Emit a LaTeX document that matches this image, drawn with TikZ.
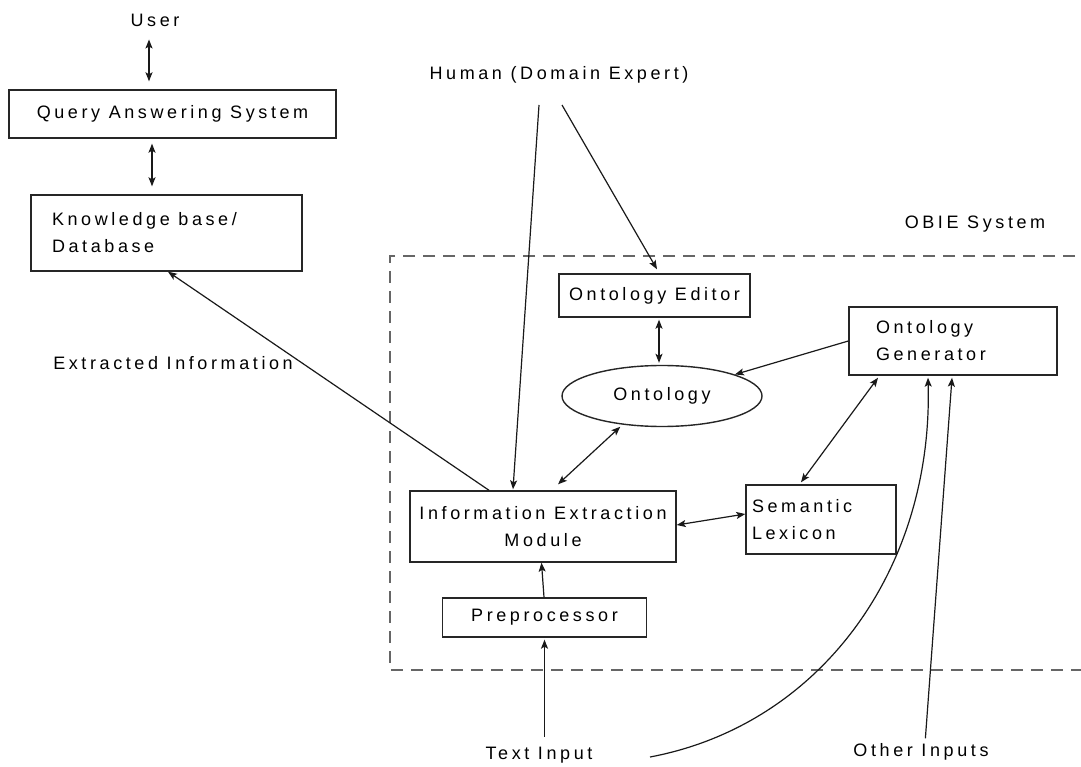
\documentclass[tikz,border=0pt]{standalone}
\usepackage{fontspec}
\setmainfont{Liberation Sans}[LetterSpace=20]
\usetikzlibrary{arrows.meta,shapes.geometric}

\begin{document}
\begin{tikzpicture}[x=1pt,y=-1pt,
  lbl/.style={font=\fontsize{18}{27}\selectfont, inner sep=0pt, text=black},
  blk/.style={lbl, draw=black!85, line width=1.4pt, rectangle},
  con/.style={line width=1.2pt, draw=black!90},
  fwd/.style={con, -{Stealth[length=9pt,width=7pt,inset=2pt]}},
  dbl/.style={con, {Stealth[length=9pt,width=7pt,inset=2pt]}-{Stealth[length=9pt,width=7pt,inset=2pt]}},
  frame/.style={draw=black!60, line width=1.4pt, dash pattern=on 12pt off 8pt}
]
\fill[white] (0,0) rectangle (1081,767);
\useasboundingbox (0,0) rectangle (1081,767);

% system boundary
\draw[frame] (1095,256) -- (390,256) -- (390,670) -- (1095,670);

% left column
\node[lbl] (user) at (155,20) {User};
\node[blk, minimum width=327pt, minimum height=48pt] (qas) at (172.5,114) {Query Answering System};
\node[blk, align=flush left, text width=229pt, inner xsep=21pt, minimum height=76pt] (kb) at (166.5,233) {Knowledge base/\\Database};
\node[lbl] (extr) at (173,363) {Extracted Information};

% labels
\node[lbl] (human) at (559,75) {Human (Domain Expert)};
\node[lbl] (obie) at (975,224) {OBIE System};
\node[lbl] (text) at (539,755) {Text Input};
\node[lbl] (other) at (921,752) {Other Inputs};

% OBIE components
\node[blk, minimum width=191pt, minimum height=43pt] (editor) at (654.5,295.5) {Ontology Editor};
\node[lbl, draw=black!85, line width=1.4pt, ellipse, minimum width=200pt, minimum height=61pt] (onto) at (662,396) {Ontology};
\node[blk, align=flush left, text width=154pt, inner xsep=27pt, minimum height=68pt] (gen) at (953,341) {Ontology\\Generator};
\node[blk, align=center, minimum width=266pt, minimum height=71pt] (iem) at (543,526.5) {Information Extraction\\Module};
\node[blk, align=flush left, text width=138pt, inner xsep=6pt, minimum height=69pt] (lex) at (821,519.5) {Semantic\\Lexicon};
\node[blk, minimum width=204pt, minimum height=39pt] (pre) at (544.5,617.5) {Preprocessor};

% free ends of connectors
\coordinate (ux) at (149,0);
\coordinate (qx) at (152,0);
\coordinate (h1) at (539,105);
\coordinate (h2) at (562,105);
\coordinate (ex) at (659,0);
\coordinate (cv) at (650,757);

% connectors
\draw[dbl, shorten <=13pt, shorten >=8pt] (user.south -| ux) -- (qas.north -| ux);
\draw[dbl, shorten <=5pt, shorten >=8pt] (qas.south -| qx) -- (kb.north -| qx);
\draw[fwd] (h1) -- ([xshift=-30pt,yshift=1pt]iem.north);
\draw[fwd] (h2) -- ([xshift=2.5pt,yshift=4pt]editor.north);
\draw[dbl, shorten <=2pt, shorten >=2pt] (editor.south -| ex) -- (onto.north -| ex);
\draw[fwd] (gen.west) -- (onto);
\draw[dbl, shorten <=3pt] (onto.216) -- ([xshift=15pt,yshift=6pt]iem.north);
\draw[dbl] ([yshift=1.5pt]iem.east) -- ([yshift=5.5pt]lex.west);
\draw[dbl] ([xshift=-75pt,yshift=-2pt]gen.south) -- ([xshift=-20pt,yshift=2pt]lex.north);
\draw[fwd] ([xshift=-0.5pt]pre.north) -- ([xshift=-1.5pt]iem.south);
\draw[fwd, shorten <=10pt, shorten >=2pt] (text.north -| pre) -- (pre.south);
\draw[fwd] (cv) .. controls (820,725) and (933,570) .. ([xshift=-25pt,yshift=-2pt]gen.south);
\draw[fwd, shorten <=5pt] ([xshift=4pt]other.north) -- ([xshift=-1pt,yshift=-2pt]gen.south);
\draw[fwd] ([xshift=-54pt]iem.north) -- ([xshift=1.5pt]kb.south);
\end{tikzpicture}
\end{document}
